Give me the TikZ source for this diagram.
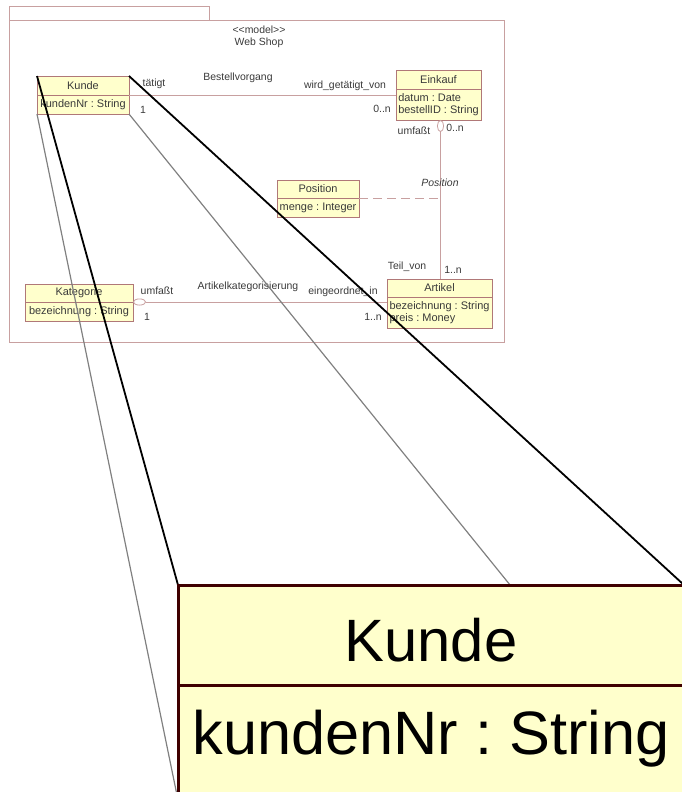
\documentclass[tikz,border=0pt]{standalone}
\usepackage{fontspec}
\setmainfont{Liberation Sans}
\usetikzlibrary{positioning, arrows.meta}
\definecolor{frameline}{HTML}{C8A0A0}
\definecolor{boxline}{HTML}{B07878}
\definecolor{boxfill}{HTML}{FFFFCC}
\definecolor{bigline}{HTML}{3F0000}
\definecolor{labeltext}{HTML}{3A3A3A}
\pgfdeclarelayer{front}
\pgfsetlayers{main,front}

\begin{document}
\frenchspacing
\begin{tikzpicture}[x=1bp, y=-1bp,
        cls/.style={draw=boxline, fill=boxfill, line width=0.8bp, inner sep=0pt,
            outer sep=0pt, text=labeltext, font=\fontsize{11}{12.5}\selectfont},
        head/.style={cls, anchor=north west, minimum width=#1, minimum height=19bp},
        attr/.style={cls, align=left, minimum width=#1},
        lbl/.style={inner sep=0pt, text=labeltext, font=\fontsize{10.5}{12}\selectfont},
        assoc/.style={draw=frameline, line width=0.8bp},
        zoomin/.style={line width=1.8bp},
        zoomout/.style={draw=gray, line width=1.2bp},
        bigcls/.style={draw=bigline, fill=boxfill, line width=3bp, inner sep=0pt,
            outer sep=0pt, minimum width=506bp, font=\fontsize{60}{72}\selectfont}]
        \useasboundingbox (0,0) rectangle (682,792);
        \draw[frameline, line width=0.8bp] (9,6) rectangle (209,20);
        \draw[frameline, line width=0.8bp] (9,20) rectangle (504,342);
        \node[lbl] (stereo) at (259,30) {<\kern0pt<model>\kern0pt>};
        \node[lbl] (shop) at (259,43) {Web Shop};

        \node[head=92bp] (kunde) at (37,76) {Kunde};
        \node[attr=92bp, minimum height=19bp, below right=0pt and 0pt of kunde.south west] (kunde-attr) {kundenNr : String};
        \node[head=85bp] (einkauf) at (396,70) {Einkauf};
        \node[attr=85bp, minimum height=31bp, below right=0pt and 0pt of einkauf.south west] (einkauf-attr) {datum : Date\\bestellID : String};
        \node[head=82bp, minimum height=18bp] (position) at (277,180) {Position};
        \node[attr=82bp, minimum height=19bp, below right=0pt and 0pt of position.south west] (position-attr) {menge : Integer};
        \node[head=105bp, minimum height=18bp] (artikel) at (387,279) {Artikel};
        \node[attr=105bp, minimum height=31bp, below right=0pt and 0pt of artikel.south west] (artikel-attr) {bezeichnung : String\\preis : Money};
        \node[head=108bp, minimum height=18bp] (kategorie) at (25,284) {Kategorie};
        \node[attr=108bp, minimum height=19bp, below right=0pt and 0pt of kategorie.south west] (kategorie-attr) {bezeichnung : String};

        \draw[assoc] (kunde-attr.north east) -- (kunde-attr.north east -| einkauf-attr.west);
        \draw[assoc, {Ellipse[open, length=12bp, width=7bp]}-] ([xshift=2bp]einkauf-attr.south) coordinate (agg) -- (agg |- artikel.north);
        \draw[assoc, dash pattern=on 9bp off 5bp] (position-attr.north east) -- (position-attr.north east -| agg);
        \draw[assoc, {Ellipse[open, length=13bp, width=7bp]}-] (kategorie-attr.north east) -- (kategorie-attr.north east -| artikel-attr.west);

        \node[lbl] (l-taetigt) at (154,84) {tätigt};
        \node[lbl] (l-k1) at (143,110) {1};
        \node[lbl] (l-bestell) at (238,78) {Bestellvorgang};
        \node[lbl] (l-wird) at (345,86) {wird\_getätigt\_von};
        \node[lbl] (l-e0n) at (382,109) {0..n};
        \node[lbl] (l-umfasst) at (414,131) {umfaßt};
        \node[lbl] (l-p0n) at (455,128) {0..n};
        \node[lbl, font=\itshape\fontsize{10.5}{12}\selectfont] (l-position) at (440,183) {Position};
        \node[lbl] (l-teil) at (407,267) {Teil\_von};
        \node[lbl] (l-a1n) at (453,270) {1..n};
        \node[lbl] (l-kat) at (248,287) {Artikelkategorisierung};
        \node[lbl] (l-eingeordnet) at (343,292) {eingeordnet\_in};
        \node[lbl] (l-umfasst2) at (157,291) {umfaßt};
        \node[lbl] (l-c1) at (147,317) {1};
        \node[lbl] (l-c1n) at (373,317) {1..n};

        \begin{pgfonlayer}{front}
        \node[bigcls, anchor=north west, minimum height=100bp, text height=52bp, text depth=0pt] (kunde-big) at (178,585) {Kunde};
        \node[bigcls, align=left, inner ysep=24bp, text height=45bp, text depth=22bp, font=\fontsize{61.5}{72}\selectfont,
            below right=0pt and 0pt of kunde-big.south west] (kunde-big-attr) {kundenNr : String};
        \end{pgfonlayer}

        \draw[zoomout] (kunde-attr.south west) -- (kunde-big-attr.south west);
        \draw[zoomout] (kunde-attr.south east) -- (kunde-big-attr.south east);
        \draw[zoomin] (kunde.north west) -- (kunde-big.north west);
        \draw[zoomin] (kunde.north east) -- (kunde-big.north east);
    \end{tikzpicture}
\end{document}
